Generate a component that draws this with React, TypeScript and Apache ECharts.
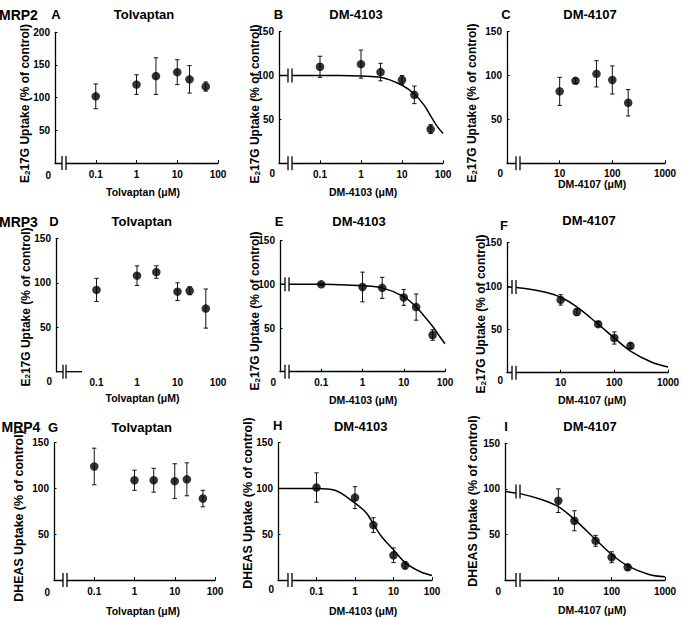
import React, { useEffect, useRef } from 'react';
import * as echarts from 'echarts';

// ---------- data ----------
const tolvaptanConc = [0.1, 1, 3, 10, 20, 50];
const dm4103Conc = [0.1, 1, 3, 10, 20, 50];
const dm4103ConcDheas = [0.1, 1, 3, 10, 20];
const dm4107Conc = [10, 20, 50, 100, 200];

const mrp2TolvMean = [102, 120, 133, 139, 128, 117];
const mrp2TolvSd = [19, 15, 28, 19, 21, 7];
const mrp2Dm4103Mean = [110, 113, 104, 95, 78, 39];
const mrp2Dm4103Sd = [12, 16, 10, 5, 10, 5];
const mrp2Dm4107Mean = [82, 94, 102, 95, 69];
const mrp2Dm4107Sd = [16, 3, 15, 16, 15];

const mrp3TolvMean = [92, 108, 112, 90, 91, 71];
const mrp3TolvSd = [13, 11, 7, 10, 4.5, 22];
const mrp3Dm4103Mean = [100, 97, 96, 85, 74, 42];
const mrp3Dm4103Sd = [1, 17, 12, 9, 15, 6];
const mrp3Dm4107Mean = [84, 70, 56, 40, 31];
const mrp3Dm4107Sd = [6, 4, 3, 7, 3];

const mrp4TolvMean = [124, 109, 109, 108, 110, 89];
const mrp4TolvSd = [20, 11, 13, 19, 18, 9];
const mrp4Dm4103Mean = [101, 90, 60, 27, 16];
const mrp4Dm4103Sd = [16, 12, 8, 8, 4];
const mrp4Dm4107Mean = [87, 65, 43, 25, 14];
const mrp4Dm4107Sd = [13, 11, 6, 6, 3];

// fitted curves
const fitConcLow = [0.01, 0.1, 0.3, 1, 3, 10, 20, 35, 50, 70, 100];
const mrp2Dm4103Fit = [100, 100, 100, 99.5, 98, 89, 79, 66, 54, 43, 34];
const mrp3Dm4103Fit = [100, 100, 99.5, 98.5, 96, 86, 74, 61, 52, 42, 32];
const fitConcDheas = [0.01, 0.1, 0.3, 1, 2, 3, 5, 10, 20, 50, 100];
const mrp4Dm4103Fit = [100, 100, 98, 84, 73, 61, 47, 33, 19, 9, 5];
const fitConcHigh = [1, 2, 5, 10, 20, 50, 100, 200, 500, 1000];
const mrp3Dm4107Fit = [99, 97.5, 93, 87, 76, 56, 40, 25, 12, 6.5];
const mrp4Dm4107Fit = [97, 94.5, 88, 80.5, 66.5, 44.5, 28, 15.5, 6, 3.5];

const titles = ['Tolvaptan', 'DM-4103', 'DM-4107', 'Tolvaptan', 'DM-4103', 'DM-4107', 'Tolvaptan', 'DM-4103', 'DM-4107'];
const letters = ['A', 'B', 'C', 'D', 'E', 'F', 'G', 'H', 'I'];
const xNames = ['Tolvaptan (μM)', 'DM-4103 (μM)', 'DM-4107 (μM)', 'Tolvaptan (μM)', 'DM-4103 (μM)', 'DM-4107 (μM)', 'Tolvaptan (μM)', 'DM-4103 (μM)', 'DM-4107 (μM)'];
const yNameE17G = 'E{sub|2}17G Uptake (% of control)';
const yNameDheas = 'DHEAS Uptake (% of control)';
const transporters = ['MRP2', 'MRP3', 'MRP4'];

type Panel = {
  conc: number[];
  mean: number[];
  sd: number[];
  fitX?: number[];
  fitY?: number[];
  curveBreak?: boolean;
  xMin: number;
  xMax: number;
  yMax: number;
  yName: string;
  stub?: boolean;
};

const panels: Panel[] = [
  { conc: tolvaptanConc, mean: mrp2TolvMean, sd: mrp2TolvSd, xMin: 0.01, xMax: 100, yMax: 200, yName: yNameE17G },
  { conc: dm4103Conc, mean: mrp2Dm4103Mean, sd: mrp2Dm4103Sd, fitX: fitConcLow, fitY: mrp2Dm4103Fit, curveBreak: true, xMin: 0.01, xMax: 100, yMax: 150, yName: yNameE17G },
  { conc: dm4107Conc, mean: mrp2Dm4107Mean, sd: mrp2Dm4107Sd, xMin: 1, xMax: 1000, yMax: 150, yName: yNameE17G },
  { conc: tolvaptanConc, mean: mrp3TolvMean, sd: mrp3TolvSd, xMin: 0.01, xMax: 100, yMax: 150, yName: yNameE17G, stub: true },
  { conc: dm4103Conc, mean: mrp3Dm4103Mean, sd: mrp3Dm4103Sd, fitX: fitConcLow, fitY: mrp3Dm4103Fit, curveBreak: true, xMin: 0.01, xMax: 100, yMax: 150, yName: yNameE17G },
  { conc: dm4107Conc, mean: mrp3Dm4107Mean, sd: mrp3Dm4107Sd, fitX: fitConcHigh, fitY: mrp3Dm4107Fit, curveBreak: true, xMin: 1, xMax: 1000, yMax: 150, yName: yNameE17G },
  { conc: tolvaptanConc, mean: mrp4TolvMean, sd: mrp4TolvSd, xMin: 0.01, xMax: 100, yMax: 150, yName: yNameDheas },
  { conc: dm4103ConcDheas, mean: mrp4Dm4103Mean, sd: mrp4Dm4103Sd, fitX: fitConcDheas, fitY: mrp4Dm4103Fit, curveBreak: false, xMin: 0.01, xMax: 100, yMax: 150, yName: yNameDheas },
  { conc: dm4107Conc, mean: mrp4Dm4107Mean, sd: mrp4Dm4107Sd, fitX: fitConcHigh, fitY: mrp4Dm4107Fit, curveBreak: true, xMin: 1, xMax: 1000, yMax: 150, yName: yNameDheas },
];

// ---------- layout ----------
const FONT = '"Liberation Sans", Arial, Helvetica, sans-serif';
const INK = '#000';
const gridBoxes = [
  [55, 32.3, 163, 130.7],
  [279, 31.7, 164, 131.6],
  [507, 31.7, 158, 131.6],
  [56, 238.3, 162, 133.4],
  [280, 240.7, 165, 131],
  [507, 242.7, 161, 130],
  [54, 442.7, 161, 137.3],
  [278, 442.7, 154, 137.3],
  [505, 443.3, 160, 136.7],
];
const labelMargins = [6, 6, 5.5, 5.5, 5.5, 5, 6.5, 6.5, 6.5];
const breakOffsets = [[7, 11], [9, 13], [9, 13], [7, 10], [5, 9], [5, 9], [9, 13], [10, 14], [11, 15]];
const titlePos = [[144, 14.5], [356, 14.5], [590, 14.5], [141.7, 221.5], [359, 221.5], [589, 220.7], [141.7, 427], [360.7, 426], [590, 426]];
const letterPos = [[56, 14.5], [278.5, 14.5], [506, 14.5], [54, 221.5], [279, 221.5], [504, 225.7], [53, 427], [277.7, 425.7], [506, 426]];
const xNamePos = [[143, 192], [363, 191.7], [592, 184], [142.5, 398.3], [363, 400], [592, 400], [143, 611], [363, 611], [592, 610]];
const yNamePos = [[25, 103.5], [255, 104], [472, 103], [25.5, 307], [255, 311], [481, 314], [19, 516], [248, 503], [473, 501]];
const yNameSizes = [12, 12, 12, 12, 12, 12, 12.4, 12.4, 12.4];
const zeroLabelY = [175, 173.5, 173.5, 381.7, 382, 380, 592.7, 589.3, 591.7];
const transporterPos = [[-1, 14.5], [-1, 221.5], [1.5, 427]];

function buildOption(): any {
  const grid = gridBoxes.map(([left, top, width, height]) => ({ left, top, width, height, outerBoundsMode: 'none', containLabel: false }));
  const xAxis = panels.map((p, i) => ({
    type: 'log',
    logBase: 10,
    gridIndex: i,
    min: p.xMin,
    max: p.xMax,
    axisLine: { show: !p.stub, onZero: false, lineStyle: { color: INK, width: 1.3 } },
    axisTick: { show: !p.stub, inside: true, length: 3, lineStyle: { color: INK, width: 1 } },
    minorTick: { show: false },
    splitLine: { show: false },
    axisLabel: {
      margin: labelMargins[i],
      fontSize: 10,
      fontWeight: 'bold',
      fontFamily: FONT,
      color: INK,
      showMinLabel: true,
      showMaxLabel: true,
      formatter: (v: number) => (Math.abs(Math.log10(v) - Math.log10(p.xMin)) < 0.01 ? '' : String(+v.toPrecision(3))),
    },
  }));
  const yAxis = panels.map((p, i) => ({
    type: 'value',
    gridIndex: i,
    min: 0,
    max: p.yMax,
    interval: 50,
    axisLine: { show: true, onZero: false, lineStyle: { color: INK, width: 1.3 } },
    axisTick: { show: true, inside: true, length: 2.5, lineStyle: { color: INK, width: 1 } },
    splitLine: { show: false },
    axisLabel: {
      margin: 5,
      fontSize: 10,
      fontWeight: 'bold',
      fontFamily: FONT,
      color: INK,
      formatter: (v: number) => (v === 0 ? '' : String(v)),
    },
  }));
  const series: any[] = [];
  panels.forEach((p, i) => {
    if (p.fitX && p.fitY) {
      series.push({
        type: 'line',
        xAxisIndex: i,
        yAxisIndex: i,
        data: p.fitX.map((x, j) => [x, p.fitY![j]]),
        smooth: 0.35,
        symbol: 'none',
        showSymbol: false,
        silent: true,
        lineStyle: { color: INK, width: 1.5 },
        z: 2,
      });
    }
    series.push({
      type: 'custom',
      xAxisIndex: i,
      yAxisIndex: i,
      silent: true,
      z: 3,
      data: p.conc.map((c, j) => [c, p.mean[j], p.sd[j]]),
      renderItem: (_params: any, api: any) => {
        const x = api.value(0);
        const y = api.value(1);
        const e = api.value(2);
        const top = api.coord([x, y + e]);
        const bot = api.coord([x, y - e]);
        const cw = 2.2;
        const st = { stroke: '#111', lineWidth: 1 };
        return {
          type: 'group',
          children: [
            { type: 'line', shape: { x1: top[0], y1: top[1], x2: bot[0], y2: bot[1] }, style: st },
            { type: 'line', shape: { x1: top[0] - cw, y1: top[1], x2: top[0] + cw, y2: top[1] }, style: st },
            { type: 'line', shape: { x1: bot[0] - cw, y1: bot[1], x2: bot[0] + cw, y2: bot[1] }, style: st },
          ],
        };
      },
    });
    series.push({
      type: 'scatter',
      xAxisIndex: i,
      yAxisIndex: i,
      data: p.conc.map((c, j) => [c, p.mean[j]]),
      symbol: 'circle',
      symbolSize: 8.5,
      itemStyle: { color: INK },
      silent: true,
      z: 4,
    });
  });
  return { animation: false, backgroundColor: '#fff', grid, xAxis, yAxis, series };
}

function txt(text: string, x: number, y: number, size: number, align: string, extra: any = {}) {
  return {
    type: 'text',
    x,
    y,
    z: 120,
    silent: true,
    ...extra,
    style: {
      text,
      fontSize: size,
      fontWeight: 'bold',
      fontFamily: FONT,
      fill: INK,
      align,
      textAlign: align,
      verticalAlign: 'middle',
      textVerticalAlign: 'middle',
      ...(extra.style || {}),
    },
  };
}

function breakMarks(x1: number, x2: number, y: number) {
  return [
    { type: 'rect', z: 100, silent: true, shape: { x: x1, y: y - 3, width: x2 - x1, height: 6 }, style: { fill: '#fff' } },
    { type: 'line', z: 101, silent: true, shape: { x1, y1: y - 7, x2: x1, y2: y + 7 }, style: { stroke: INK, lineWidth: 1.3 } },
    { type: 'line', z: 101, silent: true, shape: { x1: x2, y1: y - 7, x2, y2: y + 7 }, style: { stroke: INK, lineWidth: 1.3 } },
  ];
}

function buildGraphics(chart: any) {
  const g: any[] = [];
  panels.forEach((p, i) => {
    const [l, t, , h] = gridBoxes[i];
    const axisY = t + h;
    const [b1, b2] = breakOffsets[i];
    if (p.stub) {
      g.push({ type: 'line', z: 99, silent: true, shape: { x1: l, y1: axisY, x2: l + 26, y2: axisY }, style: { stroke: INK, lineWidth: 1.3 } });
    }
    g.push(...breakMarks(l + b1, l + b2, axisY));
    if (p.curveBreak && p.fitX && p.fitY) {
      const py = chart.convertToPixel({ gridIndex: i }, [p.fitX[0], p.fitY[0]])[1];
      g.push(...breakMarks(l + b1, l + b2, py));
    }
    g.push(txt('0', l - 4, zeroLabelY[i], 10, 'right'));
    g.push(txt(titles[i], titlePos[i][0], titlePos[i][1], 13, 'center'));
    g.push(txt(letters[i], letterPos[i][0], letterPos[i][1], 13, 'center'));
    g.push(txt(xNames[i], xNamePos[i][0], xNamePos[i][1], 10.5, 'center'));
    g.push(
      txt(p.yName, yNamePos[i][0], yNamePos[i][1], yNameSizes[i], 'center', {
        rotation: Math.PI / 2,
        style: {
          rich: {
            sub: { fontSize: 8, fontWeight: 'bold', fontFamily: FONT, fill: INK, verticalAlign: 'bottom' },
          },
        },
      })
    );
  });
  transporters.forEach((name, r) => {
    g.push(txt(name, transporterPos[r][0], transporterPos[r][1], 14, 'left'));
  });
  return g;
}

export default function App() {
  const ref = useRef<HTMLDivElement>(null);
  useEffect(() => {
    document.body.style.margin = '0';
    const chart = echarts.init(ref.current!, undefined, { renderer: 'svg' });
    chart.setOption(buildOption());
    chart.setOption({ graphic: { elements: buildGraphics(chart) } });
    return () => chart.dispose();
  }, []);
  return <div ref={ref} style={{ width: 682, height: 617 }} />;
}
